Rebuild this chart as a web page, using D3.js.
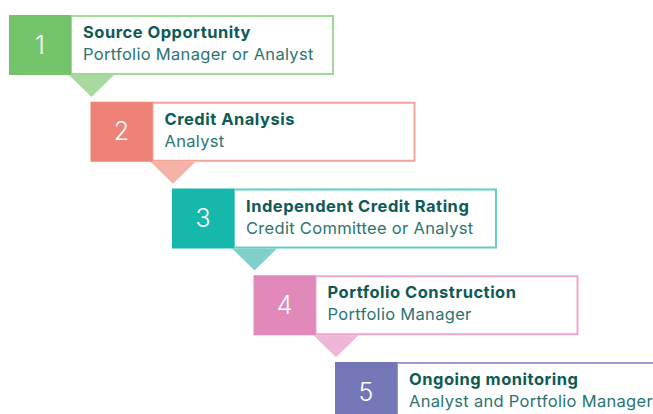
<!DOCTYPE html>
<html>
<head>
<meta charset="utf-8">
<script src="https://cdn.jsdelivr.net/npm/d3@7"></script>
<style>
  html, body { margin: 0; padding: 0; background: #ffffff; overflow: hidden; }
  svg { display: block; }
</style>
</head>
<body>
<svg id="chart" width="653" height="414"></svg>
<script>
// ---- Data ----
const stepNumbers = ["1", "2", "3", "4", "5"];
const stepTitles = [
  "Source Opportunity",
  "Credit Analysis",
  "Independent Credit Rating",
  "Portfolio Construction",
  "Ongoing monitoring"
];
const stepSubtitles = [
  "Portfolio Manager or Analyst",
  "Analyst",
  "Credit Committee or Analyst",
  "Portfolio Manager",
  "Analyst and Portfolio Manager"
];
const mainColors   = ["#74c46c", "#ee8276", "#17b8ac", "#e189b8", "#7576b8"];
const borderColors = ["#9fd996", "#f2a39a", "#62cdc5", "#eda6cd", "#9a9bd1"];
const arrowColors  = ["#a8d99e", "#f5b3a8", "#80d0c9", "#eeb6d6", "#b4b5dc"];

// ---- Layout ----
const svg = d3.select("#chart");
const idx = d3.range(stepNumbers.length);
const xScale = d3.scaleLinear().domain([0, 4]).range([9, 335]);
const yScale = d3.scaleLinear().domain([0, 4]).range([15, 362]);

const sq = 62, h = 60, boxW = 263;
const titleColor = "#0d5a56";
const subColor = "#2b7571";

const g = svg.selectAll("g.step").data(idx).join("g")
  .attr("class", "step")
  .attr("transform", i => `translate(${xScale(i)},${yScale(i)})`);

// arrow (drawn first so box covers edges)
g.filter(i => i < stepNumbers.length - 1)
  .append("path")
  .attr("d", `M${sq - 2},${h} L${sq + 43},${h} L${sq + 20.5},${h + 22} Z`)
  .attr("fill", i => arrowColors[i]);

// text box
g.append("rect")
  .attr("x", sq)
  .attr("y", 1)
  .attr("width", boxW - 1)
  .attr("height", h - 2)
  .attr("fill", "#ffffff")
  .attr("stroke", i => borderColors[i])
  .attr("stroke-width", 2);

// number square
g.append("rect")
  .attr("x", 0).attr("y", 0)
  .attr("width", sq).attr("height", h)
  .attr("fill", i => mainColors[i]);

g.append("text")
  .attr("x", sq / 2)
  .attr("y", 38.5)
  .attr("text-anchor", "middle")
  .attr("font-family", "Inter, 'Open Sans', sans-serif")
  .attr("font-weight", 300)
  .attr("font-size", 25)
  .attr("fill", "#ffffff")
  .text(i => stepNumbers[i]);

g.append("text")
  .attr("x", sq + 12)
  .attr("y", 23)
  .attr("font-family", "Inter, 'Open Sans', sans-serif")
  .attr("font-weight", 700)
  .attr("font-size", 16.5)
  .attr("letter-spacing", 0.5)
  .attr("fill", titleColor)
  .text(i => stepTitles[i]);

g.append("text")
  .attr("x", sq + 12)
  .attr("y", 45)
  .attr("font-family", "Inter, 'Open Sans', sans-serif")
  .attr("font-weight", 400)
  .attr("font-size", 16.5)
  .attr("letter-spacing", 0.3)
  .attr("fill", subColor)
  .text(i => stepSubtitles[i]);
</script>
</body>
</html>
